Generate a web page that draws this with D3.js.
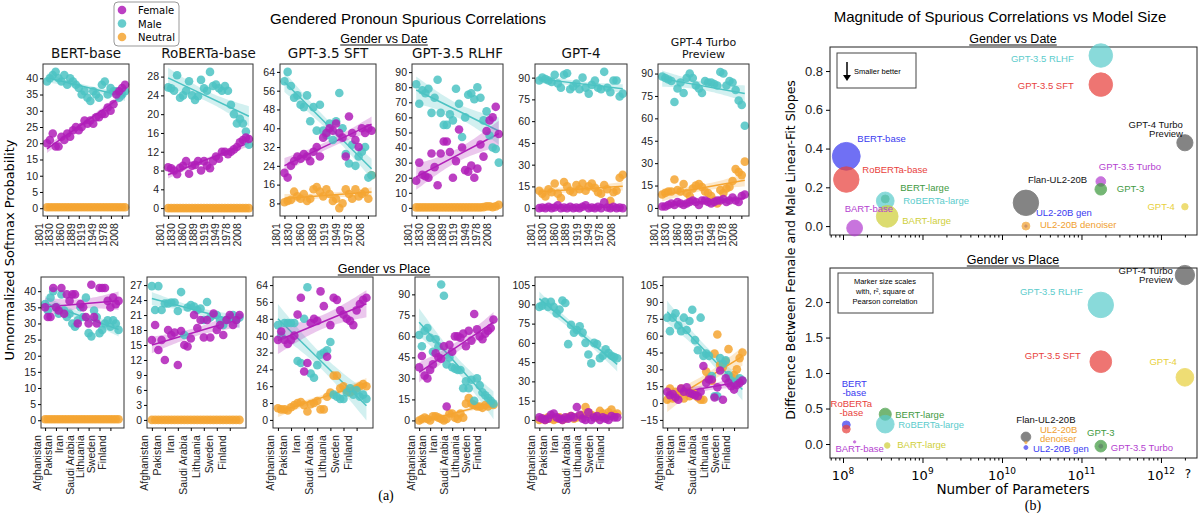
<!DOCTYPE html>
<html><head><meta charset="utf-8">
<script src="https://cdn.jsdelivr.net/npm/d3@7"></script>
<style>body{margin:0;background:#fff}svg{font-family:"DejaVu Sans",sans-serif}</style>
</head><body><svg id="chart" width="1200" height="514"></svg>
<script>
// ---- data, panel (a) ----
const years = [1801,1809,1817,1825,1833,1841,1849,1857,1865,1873,1881,1889,1897,1905,1913,1921,1929,1937,1945,1953,1961,1969,1977,1985,1993,2001,2009,2017];
const yearTicks = [1801,1830,1860,1889,1919,1949,1978,2008];
const places = [0,1,2,3,4,5,6,7,8,9,10,11,12,13,14,15,16,17,18,19,20,21,22,23,24,25,26,27];
const placeTicks = ['Afghanistan','Pakistan','Iran','Saudi Arabia','Lithuania','Sweden','Finland'];
const models = ['BERT-base','RoBERTa-base','GPT-3.5 SFT','GPT-3.5 RLHF','GPT-4','GPT-4 Turbo\nPreview'];
const zeros = [0.3,0.3,0.3,0.3,0.3,0.3,0.3,0.3,0.3,0.3,0.3,0.3,0.3,0.3,0.3,0.3,0.3,0.3,0.3,0.3,0.3,0.3,0.3,0.3,0.3,0.3,0.3,0.3];

const dateFemale = [
  [20,21,23,19,19,22,21,23,22,24,25,24,25,27,26,27,26,28,28,29,29,31,30,32,35,36,37,38],
  [8.7,8.5,8,7.2,8.6,9,10,7.3,9,9.2,10,8,10,9,8.5,10,11,10.5,12,12,11.5,12,12.5,13,14,14.5,15,14.7],
  [21,19,24,26,28,27,29,28,26,30,32,28,36,38,40,39,42,38,36,28,45,38,35,32,40,38,40,39],
  [18,30,22,21,20,36,27,15,36,44,44,37,20,31,52,40,25,24,28,20,26,42,34,51,58,60,67,49],
  [0,0.5,0,1,0,0.5,2,0,0.5,0,1,0,0.5,0,1,2,0,0.5,0,1,0,4,0.5,0,1,0,0.5,0],
  [1,1,2,3,2,4,3,2,3,4,5,4,2,5,5,4,3,4,5,5,6,4,5,7,5,4,8,9]
];
const dateMale = [
  [39,40,41,42,40,39,41,38,40,39,38,37,35,36,34,33,36,35,34,38,39,35,37,36,36,34,35,36],
  [25.7,25.5,25,28.3,23.5,24,25,27,24,23,23.8,27.3,25.5,25,29,26,26.3,25.5,25,26,25,22,20,18,19,18,16.3,13.5],
  [60,64,58,53,54,50,49,54,43,49,39,50,39,37,42,35,43,55,40,29,25,33,24,28,30,32,19,20],
  [82,69,78,76,79,63,73,85,63,55,55,62,58,79,69,47,60,75,76,72,80,73,58,64,48,40,39,30],
  [88,90,89,88,87,92,86,83,92,93,82,84,86,82,90,83,79,85,88,83,82,94,83,80,88,88,77,79],
  [88,87,86,85,71,80,84,77,87,90,87,82,80,77,85,84,84,83,82,91,90,82,85,84,79,72,69,55]
];
const dateNeutral = [
  zeros, [0,0,0,0,0,0,0,0,0,0,0,0,0,0,0,0,0,0,0,0,0,0,0,0,0,0,0,0],
  [8.5,9,9.5,13,11,10,12,9,10,14,15,13,11,14,12,9,10,6,8,14,12,10,14,11,12,13,10,20],
  [0.3,0.3,0.3,0.3,0.3,0.3,0.3,0.3,0.3,0.3,0.3,0.3,0.3,0.3,0.3,0.3,0.3,0.3,0.3,0.3,0.3,0.3,0.5,1,1,0.5,1,2],
  [12,10,8,13,11,17,10,7,18,15,12,11,16,13,17,12,15,17,14,11,10,16,13,5,11,12,21,23],
  [9,10,11,11,19,12,11,16,10,8,13,15,16,14,11,10,8,5,3,12,10,13,14,18,26,24,22,31]
];
const placeFemale = [
  [35,32,32,41,35,34,41,33,39,37,39,39,30,36,35,32,30,42,32,30,41,41,41,37,35,38,36,37],
  [16,19,14,16,12,18,17,17.5,11,17.8,15,14.7,16.3,21,18.4,20,16.5,20,16.5,21.3,18,19,17,20,21,19,20,21],
  [38,42,38,36,38,40,50,58,23,27,46,48,47,61,54,30,45,58,57,52,50,48,47,45,52,55,57,58],
  [38,46,32,30,36,40,48,45,44,53,10,54,49,60,60,59,62,53,64,57,76,65,60,58,62,64,66,72],
  [2,1,0,1,4,5,2,1,0,2,1,3,2,10,4,1,0,6,0,2,3,0,2,1,0,3,2,2],
  [10,7,8,5,3,13,10,14,9,8,7,6,10,33,18,21,21,5,14,29,3,22,18,15,12,16,18,20]
];
const placeMale = [
  [36,34,38,40,35,33,39,34,32,33,30,29,31,35,32,38,27,26,34,32,27,28,30,31,29,31,30,28],
  [26.8,22,26.8,22,23.3,23.3,23.5,23.5,21.8,25.6,17,22.5,23,22.7,22,22.3,20,23.6,20.5,21,21,20,19,20,20.5,21,20,20.5],
  [45,40,46,46,46,46,28,27,48,63,22,20,26,31,32,33,37,12,11,10,10,13,15,12,14,11,12,10],
  [61,53,64,66,59,49,58,53,97,89,40,45,38,37,36,36,23,28,23,29,14,30,25,20,18,16,14,12],
  [88,89,92,88,92,88,83,86,93,91,59,74,68,70,73,68,60,51,44,60,59,48,50,55,52,50,49,48],
  [76,64,76,80,69,64,76,65,73,83,56,47,76,42,44,42,24,6,6,40,35,38,25,20,18,18,22,20]
];
const placeNeutral = [
  zeros, [0,0,0,0,0,0,0,0,0,0,0,0,0,0,0,0,0,0,0,0,0,0,0,0,0,0,0,0],
  [5.5,5,5,4.5,6,7,8,8.5,7,4,7.5,8,9,5,5,11,13,21,21,15,16,14,13,14,15,16,17,16],
  [0,1,2,1,0,3,3,2,1,0,1,5,5,2,1,5,2,12,16,12,11,10,10,9,11,10,12,11],
  [0,1,0,2,1,0,1,2,0,1,2,3,1,2,3,4,10,6,4,3,2,7,5,3,6,8,4,5],
  [3,13,4,10,8,13,4,10,6,9,8,5,3,3,28,22,20,44,61,34,32,37,48,23,25,30,40,45]
];
const dateYTicks = [[0,40,5],[0,28,4],[8,64,8],[0,90,10],[0,90,15],[0,90,15]];
const placeYTicks = [[0,40,5],[0,27,3],[0,64,8],[0,90,15],[0,105,15],[-15,105,15]];

// ---- data, panel (b) ----
const bModels = ['BERT-base','RoBERTa-base','BART-base','BERT-large','RoBERTa-large','BART-large','Flan-UL2-20B','UL2-20B gen','UL2-20B denoiser','GPT-3.5 RLHF','GPT-3.5 SFT','GPT-3.5 Turbo','GPT-3','GPT-4 Turbo\nPreview','GPT-4'];
const bModelsPlace = ['BERT\n-base','RoBERTa\n-base','BART-base','BERT-large','RoBERTa-large','BART-large','Flan-UL2-20B','UL2-20B gen','UL2-20B\ndenoiser','GPT-3.5 RLHF','GPT-3.5 SFT','GPT-3.5 Turbo','GPT-3','GPT-4 Turbo\nPreview','GPT-4'];
const bParams = [1.1e8,1.1e8,1.4e8,3.4e8,3.4e8,3.6e8,2e10,2e10,2e10,1.75e11,1.75e11,1.75e11,1.75e11,2e12,2e12];
const bColors = ['#3a3af0','#e8413c','#b43fd0','#3f9a3f','#5ccccc','#cfcf3a','#555555','#3a3af0','#f0a030','#5ccccc','#e8413c','#b43fd0','#3f9a3f','#555555','#e8d040'];
const dateSlopeDiff = [0.36,0.24,-0.01,0.14,0.13,0.05,0.12,0.0,0.0,0.88,0.73,0.23,0.19,0.43,0.10];
const dateR2 = [0.74,0.62,0.24,0.06,0.30,0.45,0.62,0.004,0.06,0.53,0.53,0.09,0.13,0.25,0.04];
const placeSlopeDiff = [0.27,0.21,0.03,0.42,0.28,-0.02,0.10,-0.05,0.02,1.96,1.16,-0.03,-0.03,2.38,0.94];
const placeR2 = [0.06,0.06,0.004,0.14,0.30,0.03,0.09,0.015,0.002,0.62,0.45,0.015,0.13,0.36,0.30];

const colF = '#b01fb8', colM = '#4cc3c3', colN = '#f5a531';
const svg = d3.select('#chart');

// ---- helpers ----
function tickRange(t){ const out=[]; for(let v=t[0]; v<=t[1]+1e-9; v+=t[2]) out.push(v); return out; }

function fitLine(xs, ys){
  const n = xs.length, mx = d3.mean(xs), my = d3.mean(ys);
  let sxx=0, sxy=0;
  xs.forEach((x,i)=>{ sxx+=(x-mx)*(x-mx); sxy+=(x-mx)*(ys[i]-my); });
  const b = sxy/sxx, a = my - b*mx;
  let sse=0; xs.forEach((x,i)=>{ const r=ys[i]-(a+b*x); sse+=r*r; });
  const s = Math.sqrt(sse/(n-2));
  return { a, b, ci: x => 2.06*s*Math.sqrt(1/n + (x-mx)*(x-mx)/sxx) };
}

function drawPanel(box, xs, series, yt, xTickVals, xTickLabels, xDomain, r){
  const g = svg.append('g');
  const x = d3.scaleLinear().domain(xDomain).range([box[0], box[1]]);
  const ticks = tickRange(yt);
  const allY = d3.merge(series.map(s=>s.v));
  const pad = (yt[1]-yt[0])*0.06;
  const y = d3.scaleLinear().domain([Math.min(d3.min(allY), yt[0])-pad, Math.max(d3.max(allY), yt[1])+pad]).range([box[3], box[2]]);

  series.forEach(s=>{
    const f = fitLine(xs, s.v);
    const grid = d3.range(41).map(i => xs[0] + (xs[xs.length-1]-xs[0])*i/40);
    g.append('path').datum(grid)
      .attr('d', d3.area().x(d=>x(d)).y0(d=>y(f.a+f.b*d-f.ci(d))).y1(d=>y(f.a+f.b*d+f.ci(d))))
      .attr('fill', s.c).attr('opacity', 0.25);
    g.append('line').attr('x1',x(xs[0])).attr('x2',x(xs[xs.length-1]))
      .attr('y1',y(f.a+f.b*xs[0])).attr('y2',y(f.a+f.b*xs[xs.length-1]))
      .attr('stroke', s.c).attr('stroke-width',1.5);
  });
  series.forEach(s=>{
    g.selectAll(null).data(s.v).join('circle')
      .attr('cx',(d,i)=>x(xs[i])).attr('cy',d=>y(d)).attr('r',r)
      .attr('fill', s.c).attr('opacity',0.85);
  });
  g.append('rect').attr('x',box[0]).attr('y',box[2]).attr('width',box[1]-box[0]).attr('height',box[3]-box[2])
    .attr('fill','none').attr('stroke','#333').attr('stroke-width',1);
  const yAxis = g.append('g').attr('transform',`translate(${box[0]},0)`)
    .call(d3.axisLeft(y).tickValues(ticks).tickSize(3).tickPadding(2));
  yAxis.select('.domain').remove();
  yAxis.selectAll('text').attr('font-size',10.5).attr('fill','#222');
  const xAxis = g.append('g').attr('transform',`translate(0,${box[3]})`)
    .call(d3.axisBottom(x).tickValues(xTickVals).tickFormat((d,i)=>xTickLabels[i]).tickSize(3));
  xAxis.select('.domain').remove();
  xAxis.selectAll('text').attr('font-size',10.5).attr('fill','#222')
    .attr('transform','rotate(-90)').attr('text-anchor','end').attr('dx','-0.5em').attr('dy','-0.45em').attr('y',0).attr('x',-2);
  return g;
}

// ---- panel (a) layout ----
const topBoxes = [[43,129,64,216],[164,253,64,216],[280,376,64,216],[412,503,64,216],[535,627,64,216],[658,749,64,216]];
const botBoxes = [[41,124,277,428],[147,246,277,428],[273,373,277,428],[415,499,277,428],[535,623,277,428],[663,748,277,428]];

models.forEach((m,i)=>{
  const box = topBoxes[i];
  drawPanel(box, years, [{v:dateNeutral[i],c:colN},{v:dateMale[i],c:colM},{v:dateFemale[i],c:colF}],
    dateYTicks[i], yearTicks, yearTicks.map(String), [1790,2028], 4.3);
  const lines = m.split('\n');
  const t = svg.append('text').attr('x',(box[0]+box[1])/2).attr('text-anchor','middle')
    .attr('font-size', lines.length>1 ? 11 : 13.5).attr('fill','#111');
  if (lines.length>1) {
    t.attr('y',46); lines.forEach((l,k)=>t.append('tspan').attr('x',(box[0]+box[1])/2).attr('dy',k?12:0).text(l));
  } else t.attr('y',58).text(m);
});
models.forEach((m,i)=>{
  drawPanel(botBoxes[i], places, [{v:placeNeutral[i],c:colN},{v:placeMale[i],c:colM},{v:placeFemale[i],c:colF}],
    placeYTicks[i], [0,4,8,12,16,20,24], placeTicks, [-1.5,29], 4.3);
});

svg.append('text').attr('x',408).attr('y',24).attr('text-anchor','middle').attr('font-size',15).attr('font-family','Liberation Sans, Arial').text('Gendered Pronoun Spurious Correlations');
[['Gender vs Date',43],['Gender vs Place',273]].forEach(([s,yy])=>{
  const t = svg.append('text').attr('x',384).attr('y',yy).attr('text-anchor','middle').attr('font-size',12.5).attr('font-family','Liberation Sans, Arial').text(s);
  const w = t.node().getComputedTextLength();
  svg.append('line').attr('x1',384-w/2).attr('x2',384+w/2).attr('y1',yy+2).attr('y2',yy+2).attr('stroke','#111');
});
svg.append('text').attr('transform','translate(14,250) rotate(-90)').attr('text-anchor','middle').attr('font-size',13).text('Unnormalized Softmax Probability');
svg.append('text').attr('x',386).attr('y',500).attr('text-anchor','middle').attr('font-size',14).attr('font-family','Liberation Serif, serif').text('(a)');

// legend
const lg = svg.append('g');
lg.append('rect').attr('x',114).attr('y',2).attr('width',65).attr('height',44).attr('rx',4).attr('fill','#fff').attr('stroke','#999');
[['Female',colF],['Male',colM],['Neutral',colN]].forEach(([n,c],i)=>{
  lg.append('circle').attr('cx',122).attr('cy',10+i*13.5).attr('r',4.3).attr('fill',c).attr('opacity',0.85);
  lg.append('text').attr('x',138).attr('y',14+i*13.5).attr('font-size',10).text(n);
});

// ---- panel (b) ----
const bx = d3.scaleLog().domain([6.86e7, 2.84e12]).range([830,1197]);
const rScale = d3.scaleSqrt().domain([0,0.75]).range([0,14]);
const labelOff = {
  date: [[11,-14,'start'],[16,-7,'start'],[-10,-16,'start'],[15,-8,'start'],[18,3,'start'],[15,8,'start'],[2,-20,'start'],[10,-10,'start'],[14,2,'start'],[-27,6,'end'],[-27,4,'end'],[-2,-12,'start'],[16,3,'start'],[-2,-15,'end'],[-10,3,'end']],
  place: [[8,-38,'middle'],[5,-22,'middle'],[5,10,'middle'],[10,4,'start'],[13,4,'start'],[10,3,'start'],[20,-14,'middle'],[7,4,'start'],[14,-10,'start'],[-18,-10,'end'],[-20,-3,'end'],[10,5,'start'],[0,-10,'middle'],[-12,-1,'end'],[-8,-12,'end']]
};
function bubblePanel(top, bottom, vals, r2, yd, yticks, offs, names, title, showX){
  const y = d3.scaleLinear().domain(yd).range([bottom, top]);
  svg.append('rect').attr('x',830).attr('y',top).attr('width',367).attr('height',bottom-top).attr('fill','none').attr('stroke','#222');
  const ya = svg.append('g').attr('transform','translate(830,0)').call(d3.axisLeft(y).tickValues(yticks).tickFormat(d3.format('.1f')).tickSize(4));
  ya.select('.domain').remove(); ya.selectAll('text').attr('font-size',13).attr('fill','#222');
  const xa = svg.append('g').attr('transform',`translate(0,${bottom})`)
    .call(d3.axisBottom(bx).tickValues([1e8,1e9,1e10,1e11,1e12]).tickFormat('').tickSize(5));
  xa.select('.domain').remove();
  const minor = []; [1e7,1e8,1e9,1e10,1e11,1e12].forEach(p=>{ for(let k=2;k<10;k++){ const v=p*k; if(v>6.9e7&&v<2.8e12) minor.push(v);} });
  svg.append('g').attr('transform',`translate(0,${bottom})`).call(d3.axisBottom(bx).tickValues(minor).tickFormat('').tickSize(2.5)).select('.domain').remove();
  if (showX) {
    [8,9,10,11,12].forEach(p=>{
      const t = svg.append('text').attr('x',bx(Math.pow(10,p))).attr('y',bottom+22).attr('text-anchor','middle').attr('font-size',13);
      t.append('tspan').text('10'); t.append('tspan').attr('dy',-6).attr('font-size',9).text(p);
    });
    svg.append('text').attr('x',bx(2e12)+3).attr('y',bottom+20).attr('text-anchor','middle').attr('font-size',12).text('?');
  }
  const tt = svg.append('text').attr('x',1013).attr('y',top-4).attr('text-anchor','middle').attr('font-size',12.5).attr('font-family','Liberation Sans, Arial').text(title);
  const w = tt.node().getComputedTextLength();
  svg.append('line').attr('x1',1013-w/2).attr('x2',1013+w/2).attr('y1',top-2).attr('y2',top-2).attr('stroke','#111');
  bParams.forEach((p,i)=>{
    svg.append('circle').attr('cx',bx(p)).attr('cy',y(vals[i])).attr('r',Math.max(1.2,rScale(r2[i])))
      .attr('fill',bColors[i]).attr('opacity',0.72).attr('stroke',bColors[i]).attr('stroke-width',1).attr('stroke-opacity',0.9);
  });
  bParams.forEach((p,i)=>{
    const o = offs[i], lines = names[i].split('\n');
    const lc = bColors[i]==='#555555' ? '#111' : bColors[i];
    const t = svg.append('text').attr('x',bx(p)+o[0]).attr('y',y(vals[i])+o[1]).attr('text-anchor',o[2])
      .attr('font-size',9.5).attr('font-family','Liberation Sans, Arial').attr('fill',lc);
    lines.forEach((l,k)=>t.append('tspan').attr('x',bx(p)+o[0]).attr('dy',k?9:0).text(l));
  });
}
bubblePanel(47,235,dateSlopeDiff,dateR2,[-0.046,0.924],[0,0.2,0.4,0.6,0.8],labelOff.date,bModels,'Gender vs Date',false);
bubblePanel(268,458,placeSlopeDiff,placeR2,[-0.197,2.48],[0,0.5,1,1.5,2],labelOff.place,bModelsPlace,'Gender vs Place',true);

svg.append('text').attr('x',1000).attr('y',22).attr('text-anchor','middle').attr('font-size',15).attr('font-family','Liberation Sans, Arial').text('Magnitude of Spurious Correlations vs Model Size');
svg.append('text').attr('transform','translate(795,250) rotate(-90)').attr('text-anchor','middle').attr('font-size',12.5).text('Difference Between Female and Male Linear-Fit Slopes');
svg.append('text').attr('x',1013).attr('y',494).attr('text-anchor','middle').attr('font-size',13.5).text('Number of Parameters');
svg.append('text').attr('x',1033).attr('y',510).attr('text-anchor','middle').attr('font-size',14).attr('font-family','Liberation Serif, serif').text('(b)');
// annotation boxes
svg.append('rect').attr('x',837).attr('y',53).attr('width',79).attr('height',35).attr('fill','#fff').attr('stroke','#444');
svg.append('line').attr('x1',847).attr('x2',847).attr('y1',62).attr('y2',78).attr('stroke','#000').attr('stroke-width',1.5);
svg.append('path').attr('d','M843,75 L847,81 L851,75 Z').attr('fill','#000');
svg.append('text').attr('x',854).attr('y',74).attr('font-size',7.5).attr('font-family','Liberation Sans, Arial').text('Smaller better');
svg.append('rect').attr('x',838).attr('y',273).attr('width',95).attr('height',40).attr('fill','#fff').attr('stroke','#444');
const note = svg.append('text').attr('text-anchor','middle').attr('font-size',7.5).attr('font-family','Liberation Sans, Arial');
['Marker size scales','with, r², square of','Pearson correlation'].forEach((l,k)=>note.append('tspan').attr('x',885).attr('y',284+k*10).text(l));
</script></body></html>
